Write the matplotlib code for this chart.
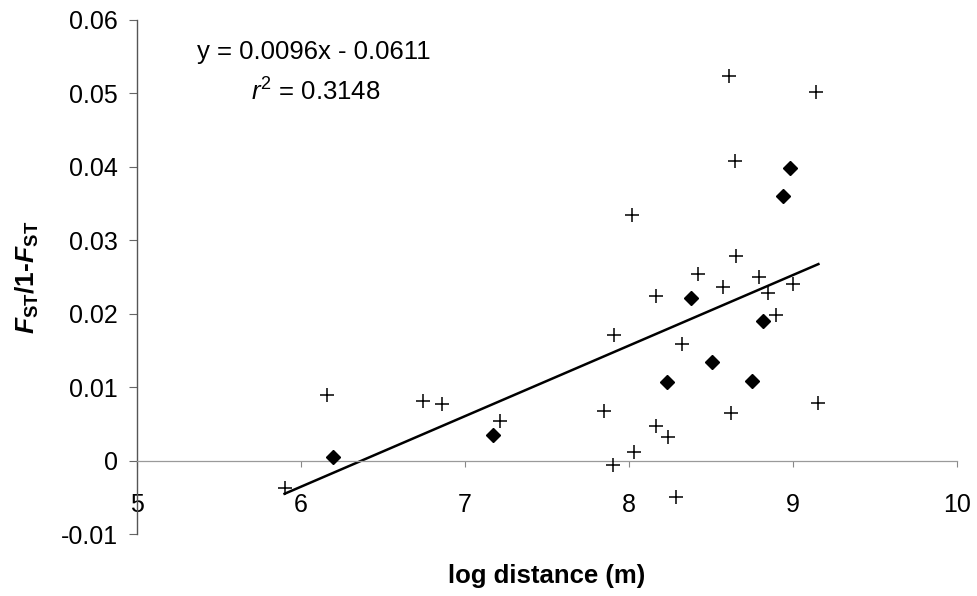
#!/usr/bin/env python3
"""Isolation by distance: FST/(1-FST) against log geographic distance."""

import matplotlib
matplotlib.use('Agg')
import matplotlib.pyplot as plt
import numpy as np

plt.rcParams['font.family'] = ['Liberation Sans', 'DejaVu Sans']
plt.rcParams['mathtext.fontset'] = 'custom'
plt.rcParams['mathtext.rm'] = 'Liberation Sans'
plt.rcParams['mathtext.it'] = 'Liberation Sans:italic'
plt.rcParams['mathtext.bf'] = 'Liberation Sans:bold:italic'
plt.rcParams['mathtext.sf'] = 'Liberation Sans:bold'

# pairwise comparisons, two groups
plus_x = [5.90, 6.157, 6.742, 6.862, 7.213, 7.848, 7.904, 7.909, 8.018,
          8.033, 8.165, 8.165, 8.240, 8.287, 8.321, 8.419, 8.571, 8.612,
          8.620, 8.645, 8.652, 8.795, 8.849, 8.896, 8.998, 9.138, 9.155]
plus_y = [-0.0037, 0.0090, 0.0082, 0.0078, 0.0054, 0.0068, -0.0005, 0.0172,
          0.0334, 0.0012, 0.0224, 0.0047, 0.0032, -0.0049, 0.0159, 0.0254,
          0.0237, 0.0524, 0.0065, 0.0408, 0.0279, 0.0250, 0.0228, 0.0199,
          0.0241, 0.0502, 0.0079]

diamond_x = [6.193, 7.173, 8.230, 8.376, 8.504, 8.752, 8.819, 8.941, 8.982]
diamond_y = [0.0006, 0.0035, 0.0107, 0.0222, 0.0134, 0.0109, 0.0190,
             0.0360, 0.0398]

slope = 0.0096
intercept = -0.0611
r2 = 0.3148

x_ticks = [5, 6, 7, 8, 9, 10]
y_ticks = [-0.01, 0, 0.01, 0.02, 0.03, 0.04, 0.05, 0.06]


def main():
    fig = plt.figure(figsize=(9.77, 5.96), dpi=100)
    ax = fig.add_axes([0.1402, 0.1032, 0.8393, 0.8633])

    ax.set_xlim(5, 10)
    ax.set_ylim(-0.01, 0.06)

    # trendline over the range of the data
    all_x = np.array(plus_x + diamond_x)
    xs = np.array([all_x.min(), all_x.max()])
    ax.plot(xs, slope * xs + intercept, color='black', lw=1.8, zorder=2)

    ax.plot(plus_x, plus_y, linestyle='none', marker='+', ms=10,
            mew=1.1, color='black', zorder=3)
    ax.plot(diamond_x, diamond_y, linestyle='none', marker='D', ms=7,
            color='black', zorder=3)

    # axes cross at x=5, y=0
    for side in ('top', 'right'):
        ax.spines[side].set_visible(False)
    ax.spines['left'].set_position(('data', 5))
    ax.spines['left'].set_color('#555555')
    ax.spines['left'].set_linewidth(1.0)
    ax.spines['bottom'].set_position(('data', 0))
    ax.spines['bottom'].set_color('#9a9a9a')
    ax.spines['bottom'].set_linewidth(0.9)
    ax.spines['bottom'].set_linestyle((0, (5, 1)))

    ax.set_xticks(x_ticks)
    ax.set_xticklabels([str(t) for t in x_ticks])
    ax.set_yticks(y_ticks)
    ax.set_yticklabels(['-0.01', '0', '0.01', '0.02', '0.03', '0.04',
                        '0.05', '0.06'])
    ax.tick_params(axis='x', direction='out', length=4, width=0.8,
                   color='#888888', pad=19, labelsize=18)
    ax.tick_params(axis='y', direction='out', length=6, width=0.8,
                   color='#666666', pad=8, labelsize=18)

    ax.set_xlabel('log distance (m)', fontsize=18.5, fontweight='bold')
    ax.xaxis.set_label_coords(0.5, -0.058)
    ax.set_ylabel(r'$\mathbf{F}_{\mathsf{ST}}$/1-$\mathbf{F}_{\mathsf{ST}}$',
                  fontsize=19, fontweight='bold')
    ax.yaxis.set_label_coords(-0.117, 0.5)

    ax.text(6.08, 0.0556, f'y = {slope:.4f}x - {abs(intercept):.4f}',
            ha='center', va='center', fontsize=18.5)
    ax.text(6.09, 0.0502, f'$r^2$ = {r2:.4f}', ha='center', va='center',
            fontsize=18.5)

    fig.savefig('out.png', dpi=100, facecolor='white')
    plt.close(fig)


if __name__ == '__main__':
    main()
